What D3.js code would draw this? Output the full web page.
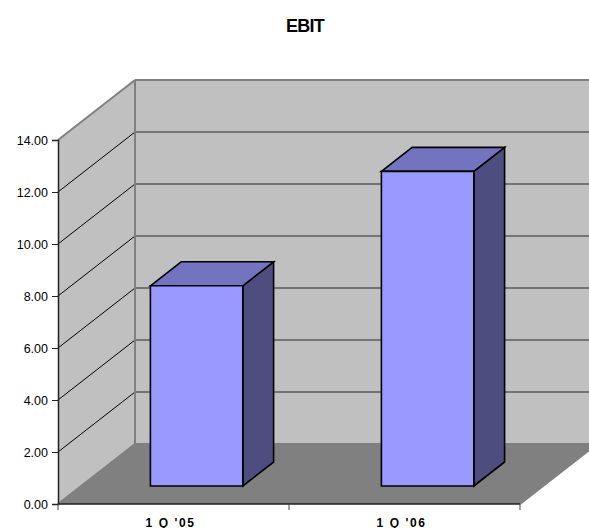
<!DOCTYPE html>
<html>
<head>
<meta charset="utf-8">
<script src="https://cdn.jsdelivr.net/npm/d3@7"></script>
<style>
  html, body { margin: 0; padding: 0; background: #ffffff; }
  svg { display: block; }
  text { font-family: "Liberation Sans", Arial, sans-serif; }
</style>
</head>
<body>
<div id="chart"></div>
<script>
// EBIT by quarter
const categories = ["1 Q '05", "1 Q '06"];
const ebitValues = [7.7, 12.1];
const yTickValues = [0, 2, 4, 6, 8, 10, 12, 14];
const chartTitle = "EBIT";

const W = 589, H = 528;
const svg = d3.select("#chart").append("svg")
  .attr("width", W).attr("height", H);

// Front plane geometry and 3D depth offset
const x0 = 58, x1 = 520;
const DX = 77, DY = -60;
const y = d3.scaleLinear().domain([0, 14]).range([504, 140]);
const x = d3.scaleBand().domain(categories).range([x0, x1]);

const pt = (px, py, d) => [px + DX * d, py + DY * d];
const poly = pts => pts.map(p => p.join(",")).join(" ");

const wallFill = "#c0c0c0", floorFill = "#808080", edge = "#808080";

// Back wall
svg.append("polygon")
  .attr("points", poly([pt(x0, y(14), 1), pt(x1, y(14), 1), pt(x1, y(0), 1), pt(x0, y(0), 1)]))
  .attr("fill", wallFill);

// Side wall
svg.append("polygon")
  .attr("points", poly([[x0, y(14)], pt(x0, y(14), 1), pt(x0, y(0), 1), [x0, y(0)]]))
  .attr("fill", wallFill);

// Floor
svg.append("polygon")
  .attr("points", poly([[x0, y(0)], [x1, y(0)], pt(x1, y(0), 1), pt(x0, y(0), 1)]))
  .attr("fill", floorFill);

// Gridlines on the back wall and side wall
const inner = yTickValues.filter(v => v > 0 && v < 14);
svg.append("g").selectAll("line").data(inner).join("line")
  .attr("x1", x0 + DX).attr("x2", x1 + DX)
  .attr("y1", d => y(d) + DY).attr("y2", d => y(d) + DY)
  .attr("stroke", "#5a5a5a").attr("stroke-width", 1.5);
svg.append("g").selectAll("line").data(inner).join("line")
  .attr("x1", x0).attr("y1", d => y(d))
  .attr("x2", x0 + DX).attr("y2", d => y(d) + DY)
  .attr("stroke", "#000").attr("stroke-width", 1);

// Wall edges
const edges = [
  [[x0, y(14)], pt(x0, y(14), 1)],
  [pt(x0, y(14), 1), pt(x1, y(14), 1)],
  [pt(x0, y(14), 1), pt(x0, y(0), 1)],
  [pt(x0, y(0), 1), pt(x1, y(0), 1)],
  [[x0, y(0)], pt(x0, y(0), 1)],
  [[x1, y(0)], pt(x1, y(0), 1)]
];
svg.append("g").selectAll("line").data(edges).join("line")
  .attr("x1", d => d[0][0]).attr("y1", d => d[0][1])
  .attr("x2", d => d[1][0]).attr("y2", d => d[1][1])
  .attr("stroke", edge).attr("stroke-width", 2);

// Bars as 3D boxes
const dFront = 0.3, dBack = 0.7, barW = 0.4 * x.bandwidth();
const bars = svg.append("g").selectAll("g").data(categories.map((c, i) => ({ c, v: ebitValues[i] })))
  .join("g");
bars.each(function(d) {
  const g = d3.select(this);
  const cx = x(d.c) + x.bandwidth() / 2;
  const l = cx - barW / 2, r = cx + barW / 2;
  const top = y(d.v), bot = y(0);
  const f = (px, py) => pt(px, py, dFront);
  const b = (px, py) => pt(px, py, dBack);
  const sw = 1.6;
  // right side
  g.append("polygon")
    .attr("points", poly([f(r, top), b(r, top), b(r, bot), f(r, bot)]))
    .attr("fill", "#4d4d80").attr("stroke", "#000").attr("stroke-width", sw);
  // top
  g.append("polygon")
    .attr("points", poly([f(l, top), b(l, top), b(r, top), f(r, top)]))
    .attr("fill", "#7373bf").attr("stroke", "#000").attr("stroke-width", sw);
  // front
  g.append("polygon")
    .attr("points", poly([f(l, top), f(r, top), f(r, bot), f(l, bot)]))
    .attr("fill", "#9999ff").attr("stroke", "#000").attr("stroke-width", sw);
});

// Value axis
const yAxis = d3.axisLeft(y).tickValues(yTickValues).tickSize(6).tickPadding(4)
  .tickFormat(d3.format(".2f"));
const ya = svg.append("g").attr("transform", `translate(${x0},0)`).call(yAxis);
ya.select(".domain").attr("stroke", "#222").attr("stroke-width", 1.5);
ya.selectAll(".tick line").attr("stroke", "#222");
ya.selectAll(".tick text").attr("font-size", 12.5).attr("fill", "#000")
  .style("font-family", "'Liberation Sans', Arial, sans-serif");

// Category axis
const xa = svg.append("g").attr("transform", `translate(0,${y(0)})`);
xa.append("line").attr("x1", x0).attr("x2", x1).attr("stroke", "#222").attr("stroke-width", 1.5);
const edgesX = [x0, ...categories.slice(1).map(c => x(c)), x1];
xa.selectAll("line.tk").data(edgesX).join("line").attr("class", "tk")
  .attr("x1", d => d).attr("x2", d => d).attr("y1", 0).attr("y2", 6)
  .attr("stroke", "#444");
xa.selectAll("text").data(categories).join("text")
  .attr("x", d => x(d) + x.bandwidth() / 2 - 3)
  .attr("y", 22.5)
  .attr("text-anchor", "middle")
  .attr("font-size", 12).attr("font-weight", "bold")
  .attr("letter-spacing", 1.6)
  .text(d => d);

// Title
svg.append("text")
  .attr("x", 305).attr("y", 32)
  .attr("text-anchor", "middle")
  .attr("font-size", 18).attr("font-weight", "bold")
  .attr("letter-spacing", -0.8)
  .text(chartTitle);
</script>
</body>
</html>
